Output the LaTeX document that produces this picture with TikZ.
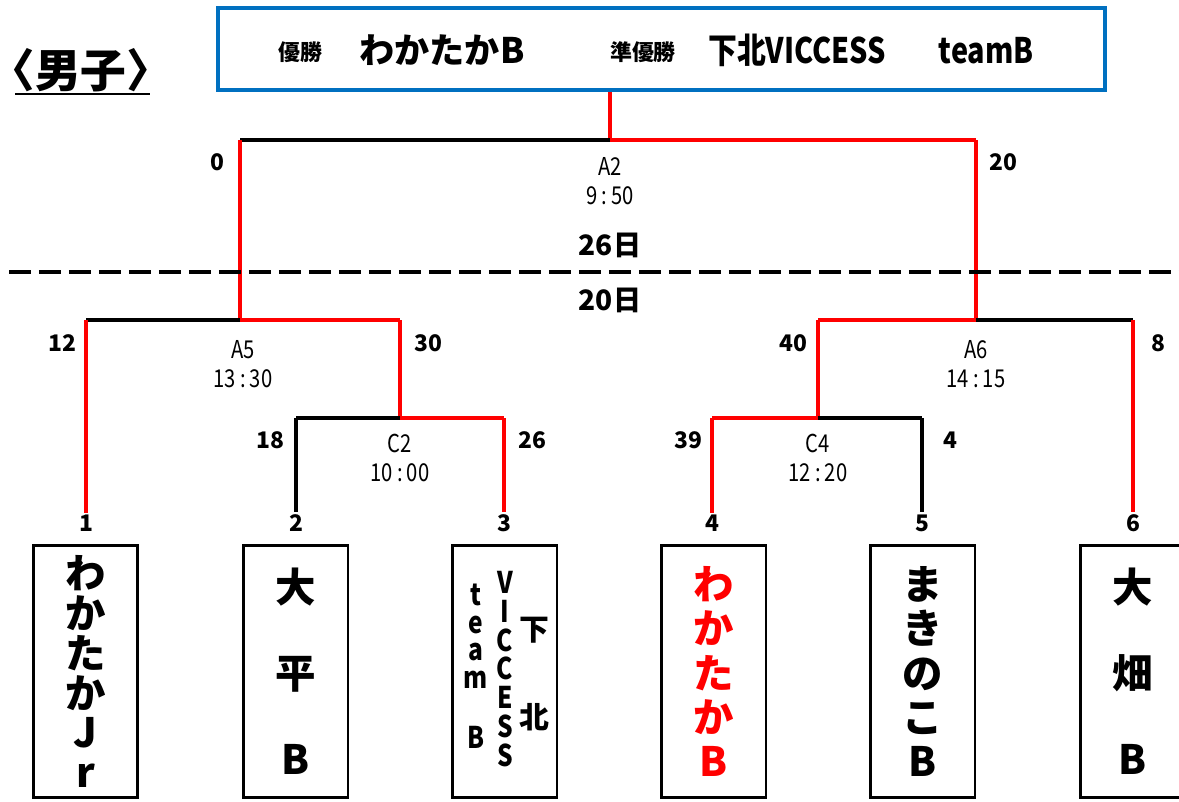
\documentclass[tikz,border=0pt]{standalone}
\usepackage{fontspec}
\setmainfont{Noto Sans CJK JP}
\newfontfamily\jp{Noto Sans CJK JP}
\newfontfamily\jpnarrow{Noto Sans CJK JP}[FakeStretch=0.82]
\definecolor{hdrblue}{RGB}{0,112,192}
\begin{document}
\begin{tikzpicture}[x=0.02cm,y=-0.02cm,
  win/.style={draw=red, line width=2.3pt},
  lose/.style={draw=black, line width=2.3pt},
  score/.style={font=\jp\bfseries\fontsize{13}{13}\selectfont, inner sep=1pt},
  game/.style={font=\jpnarrow\fontsize{14}{16.4}\selectfont, align=center},
  team/.style={draw, line width=1.7pt, minimum width=2.1cm, minimum height=5.06cm, inner sep=0pt, align=center},
  big/.style={font=\jp\bfseries\fontsize{23}{#1}\selectfont}]
\useasboundingbox (0,0) rectangle (1179,801);

% header
\node[draw=hdrblue, line width=2.3pt, minimum width=17.74cm, minimum height=1.64cm] (hdr) at (661.5,49) {};
\node[font=\jp\bfseries\fontsize{12.5}{12.5}\selectfont] (w1) at (300,52) {優勝};
\node[font=\jp\bfseries\fontsize{20}{20}\selectfont] (w2) at (442,50) {わかたかB};
\node[font=\jp\bfseries\fontsize{12.5}{12.5}\selectfont] (r1) at (643,52) {準優勝};
\node[font=\jpnarrow\bfseries\fontsize{20}{20}\selectfont] (r2) at (871,50) {下北VICCESS\hspace{1.5em}teamB};
\node[font=\jp\bfseries\fontsize{26}{26}\selectfont, inner sep=0pt] (sex) at (91,70) {\hspace{-0.45em}〈男子〉\hspace{-0.45em}};
\draw[line width=1.7pt] (15,94) -- (150,94);

% junctions
\coordinate (f) at (610,140);
\coordinate (fl) at (240,140);
\coordinate (fr) at (976,140);
\coordinate (a5) at (240,320);
\coordinate (a5l) at (86,320);
\coordinate (a5r) at (400,320);
\coordinate (a6) at (976,320);
\coordinate (a6l) at (818,320);
\coordinate (a6r) at (1133,320);
\coordinate (c2) at (400,418);
\coordinate (c2l) at (296,418);
\coordinate (c2r) at (504,418);
\coordinate (c4) at (818,418);
\coordinate (c4l) at (712,418);
\coordinate (c4r) at (922,418);

% entry numbers
\foreach \i/\x in {1/86,2/296,3/504,4/712,5/922,6/1133}
  \node[score] (n\i) at (\x,523) {\i};

% bracket lines
\draw[win] (f) -- (f |- hdr.south);
\draw[lose] (fl) -- (f);
\draw[win] (f) -- (fr);
\draw[win] (fl) -- (a5);
\draw[win] (fr) -- (a6);
\draw[lose] (a5l) -- (a5);
\draw[win] (a5) -- (a5r);
\draw[win] (a5l) -- (n1.north);
\draw[win] (a5r) -- (c2);
\draw[lose] (c2l) -- (c2);
\draw[win] (c2) -- (c2r);
\draw[lose] (c2l) -- (n2.north);
\draw[win] (c2r) -- (n3.north);
\draw[win] (a6l) -- (a6);
\draw[lose] (a6) -- (a6r);
\draw[win] (a6r) -- (n6.north);
\draw[win] (a6l) -- (c4);
\draw[win] (c4l) -- (c4);
\draw[lose] (c4) -- (c4r);
\draw[win] (c4l) -- (n4.north);
\draw[lose] (c4r) -- (n5.north);

% scores
\node[score] (s0) at (217,162) {0};
\node[score] (s20) at (1003,162) {20};
\node[score] (s12) at (62,343) {12};
\node[score] (s30) at (428,343) {30};
\node[score] (s40) at (793,343) {40};
\node[score] (s8) at (1158,343) {8};
\node[score] (s18) at (270,440) {18};
\node[score] (s26) at (532,440) {26};
\node[score] (s39) at (688,440) {39};
\node[score] (s4) at (950,440) {4};

% games
\node[game] (gA2) at (610,181) {A2\\9\,:\,50};
\node[game] (gA5) at (243,364) {A5\\13\,:\,30};
\node[game] (gA6) at (976,364) {A6\\14\,:\,15};
\node[game] (gC2) at (400,458) {C2\\10\,:\,00};
\node[game] (gC4) at (818,458) {C4\\12\,:\,20};

% days
\node[font=\jp\bfseries\fontsize{16}{16}\selectfont] (d26) at (610,245) {26日};
\node[font=\jp\bfseries\fontsize{16}{16}\selectfont] (d20) at (610,300) {20日};
\coordinate (dl) at (9,272);
\coordinate (dr) at (1179,272);
\draw[line width=2.3pt, dash pattern=on 0.44cm off 0.16cm] (dl) -- (dr);

% teams
\node[team, big=22.7pt] (t1) at (85.5,671.5) {わ\\か\\た\\か\\J\\r};
\node[team, big=49pt] (t2) at (295.5,671.5) {大\\平\\B};
\node[team] (t3) at (504.5,671.5) {};
\node[font=\jpnarrow\bfseries\fontsize{17}{15.9}\selectfont, align=center] (t3a) at (476,666) {t\\e\\a\\m\\[18pt]B};
\node[font=\jpnarrow\bfseries\fontsize{17}{16.4}\selectfont, align=center] (t3b) at (505,669) {V\\I\\C\\C\\E\\S\\S};
\node[font=\jp\bfseries\fontsize{17}{50}\selectfont, align=center] (t3c) at (534,674) {下\\北};
\node[team, big=25.2pt, text=red] (t4) at (713.5,671.5) {わ\\か\\た\\か\\B};
\node[team, big=25.2pt] (t5) at (922.5,671.5) {ま\\き\\の\\こ\\B};
\node[team, big=49pt] (t6) at (1132.5,671.5) {大\\畑\\B};
\end{tikzpicture}
\end{document}
